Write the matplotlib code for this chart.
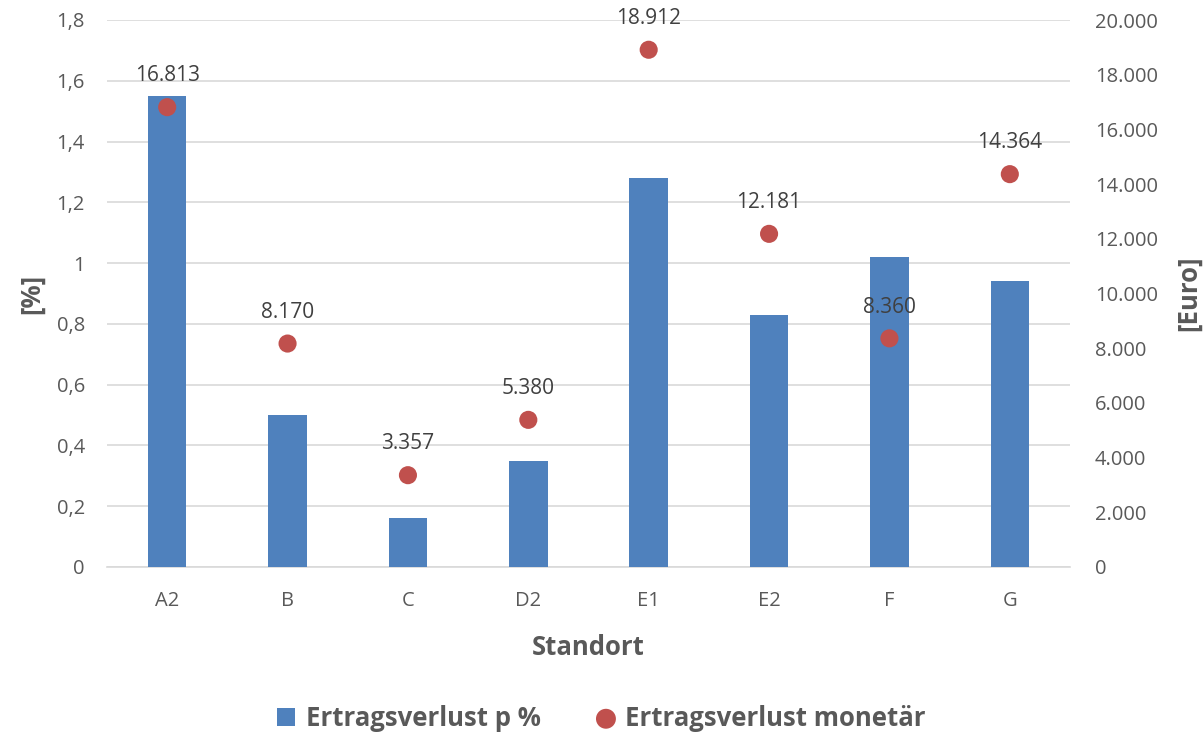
import matplotlib
matplotlib.use("Agg")
import matplotlib.pyplot as plt
from matplotlib.ticker import FuncFormatter, MultipleLocator

categories = ["A2", "B", "C", "D2", "E1", "E2", "F", "G"]
loss_pct = [1.55, 0.50, 0.16, 0.35, 1.28, 0.83, 1.02, 0.94]
loss_eur = [16813, 8170, 3357, 5380, 18912, 12181, 8360, 14364]

plt.rcParams['font.family'] = ['Open Sans', 'DejaVu Sans']
gray = "#595959"
blue = "#4F81BD"
red = "#C0504D"

fig = plt.figure(figsize=(12.03, 7.35), dpi=100)
ax = fig.add_axes([107/1203, 1-567/735, (1070-107)/1203, (567-20)/735])
x = list(range(len(categories)))
ax.bar(x, loss_pct, width=0.32, color=blue, zorder=3, label="Ertragsverlust p %")
ax.set_xlim(-0.5, len(categories) - 0.5)
ax.set_ylim(0, 1.8)
ax.yaxis.set_major_locator(MultipleLocator(0.2))


def pct_fmt(v, p):
    if abs(v - round(v)) < 1e-9:
        return f"{int(round(v))}"
    return f"{v:.1f}".replace(".", ",")


ax.yaxis.set_major_formatter(FuncFormatter(pct_fmt))
ax.grid(axis="y", color="#D9D9D9", linewidth=1.2, zorder=0)
ax.set_axisbelow(True)
for s in ["top", "left", "right"]:
    ax.spines[s].set_visible(False)
ax.spines["bottom"].set_color("#D9D9D9")
ax.spines["bottom"].set_linewidth(1.2)
ax.set_xticks(x)
ax.set_xticklabels(categories)
ax.tick_params(axis="both", length=0, labelsize=14.5, colors=gray)
ax.tick_params(axis="x", pad=17)
ax.tick_params(axis="y", pad=16)
ax.set_xlabel("Standort", fontsize=18.5, fontweight="bold", color=gray, labelpad=17)
ax.set_ylabel("[%]", fontsize=18.5, fontweight="bold", color=gray, labelpad=8)

ax2 = ax.twinx()
ax2.scatter(x, loss_eur, s=170, color=red, zorder=4, label="Ertragsverlust monetär", edgecolors="none")
ax2.set_ylim(0, 20000)
ax2.yaxis.set_major_locator(MultipleLocator(2000))
ax2.yaxis.set_major_formatter(FuncFormatter(lambda v, p: f"{int(v):,}".replace(",", ".")))
for s in ["top", "left", "right", "bottom"]:
    ax2.spines[s].set_visible(False)
ax2.tick_params(axis="y", length=0, labelsize=14.5, colors=gray, pad=18)
ax2.set_ylabel("[Euro]", fontsize=18.5, fontweight="bold", color=gray, labelpad=12)
for xi, v in zip(x, loss_eur):
    ax2.annotate(f"{v:,}".replace(",", "."), (xi, v), xytext=(0, 22.5), textcoords="offset points",
                 ha="center", va="center", fontsize=15, color="#404040", zorder=5)

h1, l1 = ax.get_legend_handles_labels()
h2, l2 = ax2.get_legend_handles_labels()
fig.legend(h1 + h2, l1 + l2, loc="center", bbox_to_anchor=(0.5, 1-718/735), ncol=2, frameon=False,
           prop={"size": 18.5, "weight": "bold"}, labelcolor=gray, handlelength=0.7, handletextpad=0.4,
           columnspacing=2.2, markerscale=1.1)

fig.savefig("out.png", dpi=100)
